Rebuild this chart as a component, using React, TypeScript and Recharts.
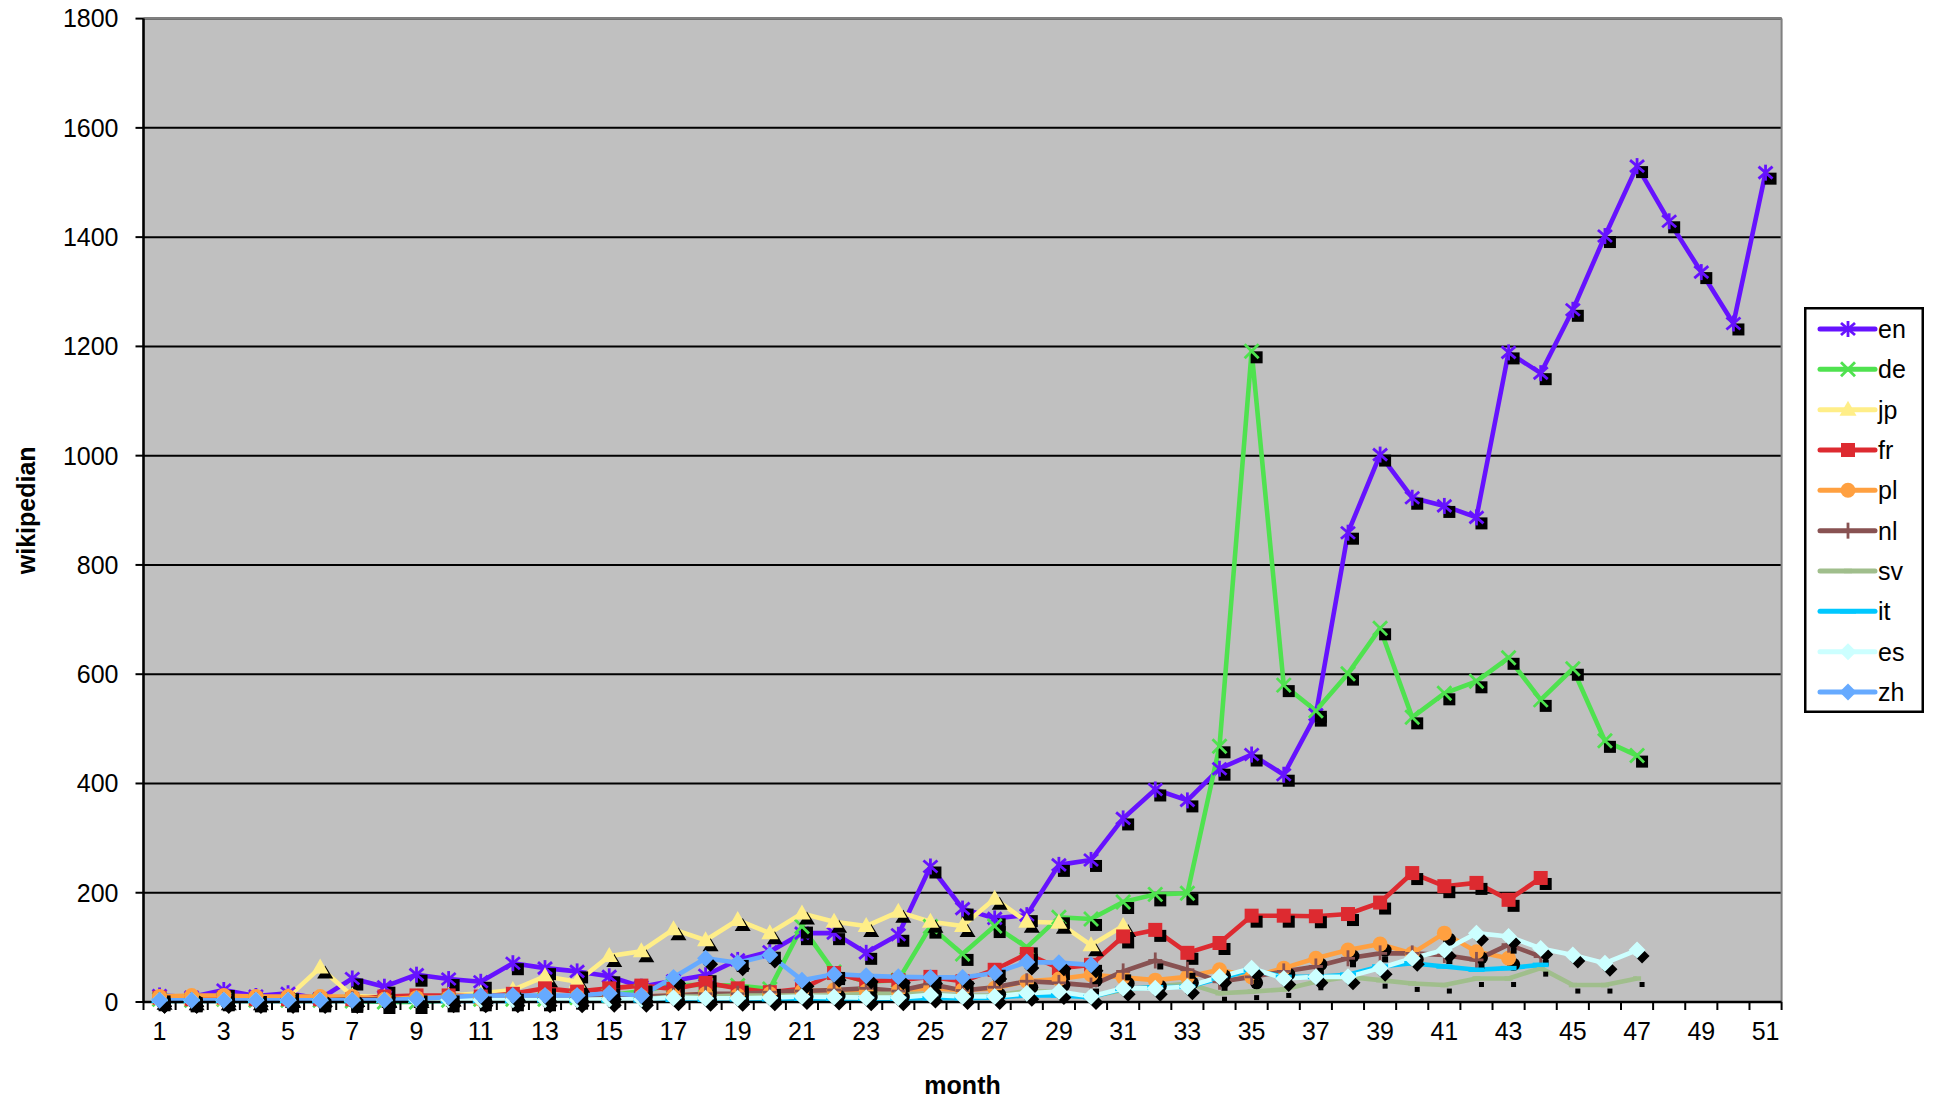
import React from 'react';
import { LineChart, Line, XAxis, YAxis, CartesianGrid, ReferenceLine, Label } from 'recharts';

const FONT = '"Liberation Sans", Arial, Helvetica, sans-serif';

const MONTHS = [1,2,3,4,5,6,7,8,9,10,11,12,13,14,15,16,17,18,19,20,21,22,23,24,25,26,27,28,29,30,31,32,33,34,35,36,37,38,39,40,41,42,43,44,45,46,47,48,49,50,51];
const Y_TICKS = [0,200,400,600,800,1000,1200,1400,1600,1800];

const EN = [12,9,22,11,16,6,43,28,50,42, 37,71,62,56,47,28,39,49,77,92, 126,126,90,123,248,171,153,159,251,260, 336,389,369,427,453,416,526,859,1002,923, 908,887,1189,1151,1267,1402,1530,1429,1336,1242,1518];
const DE = [5,3,5,3,3,3,2,0,0,3, 5,5,5,8,12,20,31,31,30,24, 138,55,37,40,138,88,139,100,155,152, 183,197,199,468,1191,580,533,601,684,521, 565,587,630,553,610,478,451];
const JP = [6,5,5,5,9,63,11,9,9,12, 16,22,47,37,84,93,133,113,150,126, 162,147,139,165,147,139,189,147,145,104, 139];
const FR = [8,5,8,5,5,5,5,10,12,12, 10,15,25,19,25,30,24,35,25,18, 24,53,38,40,46,38,59,88,62,68, 120,132,90,108,158,158,157,161,182,236, 212,218,187,227];
const PL = [10,12,12,10,10,10,10,5,8,8, 5,8,10,10,12,10,12,15,12,15, 20,22,20,20,25,22,25,38,42,50, 45,40,46,59,46,62,80,95,106,89, 126,92,80];
const NL = [3,3,3,3,3,3,5,5,5,5, 5,5,8,8,12,10,12,15,15,18, 20,22,25,20,33,21,27,38,35,30, 56,76,59,37,46,56,65,80,89,89, 86,77,105,83];
const SV = [2,2,2,2,2,2,2,2,3,3, 3,3,3,3,5,5,10,10,12,12, 12,12,15,15,15,12,12,20,18,10, 22,28,34,16,19,23,37,46,40,34, 31,43,43,62,31,31,43];
const IT = [2,2,2,2,2,2,2,2,2,2, 2,2,3,3,3,3,4,4,5,5, 6,6,6,6,7,7,8,12,12,9, 24,27,28,43,59,46,46,50,65,71, 65,59,62,68];
const ES = [3,3,3,3,3,3,3,3,4,4, 4,4,4,4,5,5,8,7,7,8, 10,9,8,8,13,10,10,16,19,10, 25,25,28,46,62,43,46,46,62,80, 95,126,120,98,86,71,95];
const ZH = [3,3,3,3,3,3,3,3,6,9, 12,12,12,12,16,12,45,80,72,86, 40,51,48,46,45,45,53,73,72,68];

type Marker = 'star' | 'x' | 'triangle' | 'square' | 'circle' | 'plus' | 'shortdash' | 'longdash' | 'diamond';

const SERIES: { key: string; color: string; marker: Marker; values: number[] }[] = [
  { key: 'en', color: '#6612FF', marker: 'star', values: EN },
  { key: 'de', color: '#4FE24F', marker: 'x', values: DE },
  { key: 'jp', color: '#FFEE88', marker: 'triangle', values: JP },
  { key: 'fr', color: '#DD2A30', marker: 'square', values: FR },
  { key: 'pl', color: '#FFA040', marker: 'circle', values: PL },
  { key: 'nl', color: '#885252', marker: 'plus', values: NL },
  { key: 'sv', color: '#A0BE8C', marker: 'shortdash', values: SV },
  { key: 'it', color: '#00C8FF', marker: 'longdash', values: IT },
  { key: 'es', color: '#CCFFFF', marker: 'diamond', values: ES },
  { key: 'zh', color: '#66AAFF', marker: 'diamond', values: ZH },
];

const X_TICKS: number[] = [...MONTHS.flatMap((m) => [m - 0.5, m]), MONTHS[MONTHS.length - 1] + 0.5];

const DATA = MONTHS.map((m, i) => {
  const row: Record<string, number | undefined> = { month: m };
  SERIES.forEach((s) => {
    row[s.key] = s.values[i];
  });
  return row;
});

function drawMarker(type: Marker, cx: number, cy: number, color: string) {
  const sw = 2.8;
  switch (type) {
    case 'star':
      return (
        <g stroke={color} strokeWidth={sw} strokeLinecap="butt">
          <line x1={cx} y1={cy - 8} x2={cx} y2={cy + 8} />
          <line x1={cx - 7} y1={cy - 6} x2={cx + 7} y2={cy + 6} />
          <line x1={cx - 7} y1={cy + 6} x2={cx + 7} y2={cy - 6} />
        </g>
      );
    case 'x':
      return (
        <g stroke={color} strokeWidth={sw}>
          <line x1={cx - 7} y1={cy - 7} x2={cx + 7} y2={cy + 7} />
          <line x1={cx - 7} y1={cy + 7} x2={cx + 7} y2={cy - 7} />
        </g>
      );
    case 'triangle':
      return <polygon points={`${cx},${cy - 9} ${cx + 8.5},${cy + 6} ${cx - 8.5},${cy + 6}`} fill={color} />;
    case 'square':
      return <rect x={cx - 7} y={cy - 7} width={14} height={14} fill={color} />;
    case 'circle':
      return <circle cx={cx} cy={cy} r={7.5} fill={color} />;
    case 'plus':
      return (
        <g stroke={color} strokeWidth={sw}>
          <line x1={cx} y1={cy - 8} x2={cx} y2={cy + 8} />
          <line x1={cx - 7} y1={cy} x2={cx + 7} y2={cy} />
        </g>
      );
    case 'shortdash':
      return <line x1={cx - 4} y1={cy} x2={cx + 4} y2={cy} stroke={color} strokeWidth={4.5} />;
    case 'longdash':
      return <line x1={cx - 8} y1={cy} x2={cx + 8} y2={cy} stroke={color} strokeWidth={4.5} />;
    case 'diamond':
      return <polygon points={`${cx},${cy - 8.5} ${cx + 8.5},${cy} ${cx},${cy + 8.5} ${cx - 8.5},${cy}`} fill={color} />;
    default:
      return null;
  }
}

function drawShadow(type: Marker, cx: number, cy: number) {
  const x = cx + 5;
  const y = cy + 6;
  switch (type) {
    case 'star':
    case 'x':
    case 'square':
      return <rect x={x - 6} y={y - 6} width={12} height={12} fill="#000" />;
    case 'triangle':
      return <polygon points={`${x},${y - 8} ${x + 8},${y + 5} ${x - 8},${y + 5}`} fill="#000" />;
    case 'circle':
      return <circle cx={x} cy={y} r={6.5} fill="#000" />;
    case 'plus':
      return <rect x={x - 3} y={y - 3} width={6} height={6} fill="#000" />;
    case 'shortdash':
      return <rect x={x - 2.5} y={y - 2.5} width={5} height={5} fill="#000" />;
    case 'diamond':
      return <polygon points={`${x},${y - 7.5} ${x + 7.5},${y} ${x},${y + 7.5} ${x - 7.5},${y}`} fill="#000" />;
    default:
      return null;
  }
}

function makeDot(s: { key: string; color: string; marker: Marker }) {
  return (p: any) => {
    const k = `${s.key}-${p.index}`;
    if (p.value == null || p.cx == null || p.cy == null || Number.isNaN(p.cy)) return <g key={k} />;
    return (
      <g key={k}>
        {drawShadow(s.marker, p.cx, p.cy)}
        {drawMarker(s.marker, p.cx, p.cy, s.color)}
      </g>
    );
  };
}

const XTick = (props: any) => {
  const { x, y, payload } = props;
  const v = payload.value as number;
  if (Number.isInteger(v)) {
    if (v % 2 === 1) {
      return (
        <text x={x} y={y + 38} textAnchor="middle" fontSize={25} fontFamily={FONT} fill="#000">
          {v}
        </text>
      );
    }
    return <g />;
  }
  return <line x1={x} y1={y} x2={x} y2={y + 8} stroke="#000" strokeWidth={2} />;
};

const LegendBox = () => {
  const step = 40.33;
  return (
    <svg width={120} height={406} style={{ position: 'absolute', left: 1804, top: 307 }}>
      <rect x={1.25} y={1.25} width={117.5} height={403.5} fill="#FFFFFF" stroke="#000" strokeWidth={2.5} />
      {SERIES.map((s, i) => {
        const cy = 22 + i * step;
        return (
          <g key={s.key}>
            <line x1={16} y1={cy} x2={71} y2={cy} stroke={s.color} strokeWidth={5} strokeLinecap="round" />
            {drawMarker(s.marker, 44, cy, s.color)}
            <text x={74} y={cy} dominantBaseline="central" fontSize={25} fontFamily={FONT} fill="#000">
              {s.key}
            </text>
          </g>
        );
      })}
    </svg>
  );
};

export default function App() {
  return (
    <div style={{ position: 'absolute', left: 0, top: 0, width: 1940, height: 1103, background: '#FFFFFF' }}>
      <LineChart
        width={1940}
        height={1103}
        data={DATA}
        margin={{ top: 18.6, right: 158.4, left: 0, bottom: 0 }}
        style={{ fontFamily: FONT }}
      >
        <CartesianGrid horizontal vertical={false} stroke="#000" strokeWidth={2} fill="#C0C0C0" fillOpacity={1} />
        <XAxis
          dataKey="month"
          type="number"
          domain={[0.5, 51.5]}
          ticks={X_TICKS}
          interval={0}
          tick={<XTick />}
          tickLine={false}
          tickSize={0}
          tickMargin={0}
          height={101}
          axisLine={{ stroke: '#000', strokeWidth: 2.6 }}
        >
          <Label
            content={(p: any) => {
              const vb = p.viewBox || {};
              const cx = vb.x + vb.width / 2;
              return (
                <text x={cx} y={1094} textAnchor="middle" fontSize={25} fontWeight="bold" fontFamily={FONT} fill="#000">
                  month
                </text>
              );
            }}
          />
        </XAxis>
        <YAxis
          type="number"
          domain={[0, 1800]}
          ticks={Y_TICKS}
          interval={0}
          width={143.5}
          tickSize={8}
          tickMargin={17}
          tick={{ fontSize: 25, fill: '#000', fontFamily: FONT }}
          tickLine={{ stroke: '#000', strokeWidth: 2 }}
          axisLine={{ stroke: '#000', strokeWidth: 2.6 }}
        >
          <Label
            content={(p: any) => {
              const vb = p.viewBox || {};
              const cy = vb.y + vb.height / 2;
              return (
                <text
                  x={26}
                  y={cy}
                  transform={`rotate(-90 26 ${cy})`}
                  textAnchor="middle"
                  dominantBaseline="central"
                  fontSize={25}
                  fontWeight="bold"
                  fontFamily={FONT}
                  fill="#000"
                >
                  wikipedian
                </text>
              );
            }}
          />
        </YAxis>
        <ReferenceLine y={Y_TICKS[Y_TICKS.length - 1]} stroke="#808080" strokeWidth={2} />
        <ReferenceLine x={X_TICKS[X_TICKS.length - 1]} stroke="#808080" strokeWidth={2} />
        {SERIES.map((s) => (
          <Line
            key={s.key}
            type="linear"
            dataKey={s.key}
            stroke={s.color}
            strokeWidth={4.6}
            strokeLinejoin="round"
            dot={makeDot(s)}
            activeDot={false}
            connectNulls={false}
            isAnimationActive={false}
            legendType="none"
          />
        ))}
      </LineChart>
      <LegendBox />
    </div>
  );
}
